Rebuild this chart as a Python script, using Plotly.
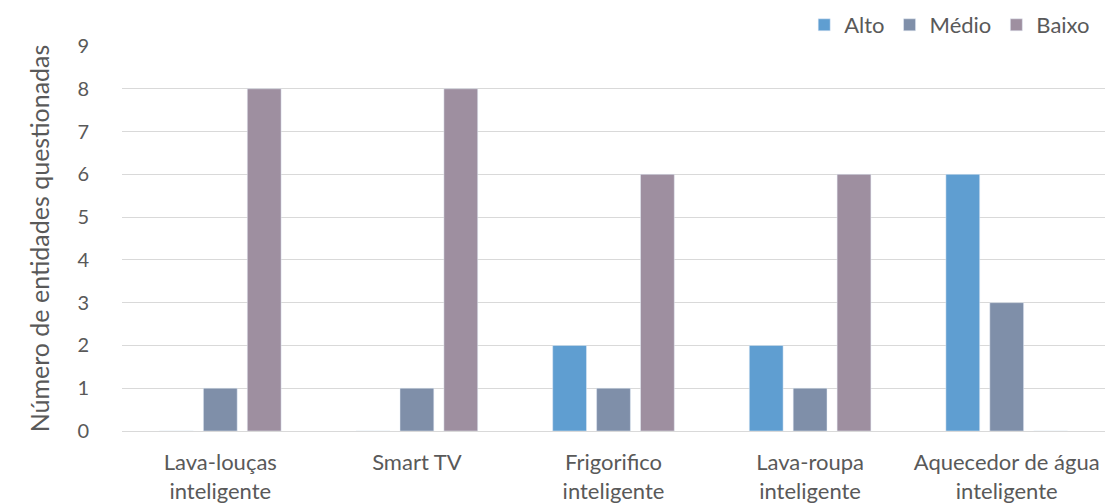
import plotly.graph_objects as go

categories = ["Lava-louças<br>inteligente", "Smart TV", "Frigorifico<br>inteligente",
              "Lava-roupa<br>inteligente", "Aquecedor de água<br>inteligente"]
alto = [0, 0, 2, 2, 6]
medio = [1, 1, 1, 1, 3]
baixo = [8, 8, 6, 6, 0]
y_ticks = list(range(0, 10))

FONT = "Lato"
TXT = "#595959"

fig = go.Figure()
fig.add_bar(name="Alto", x=categories, y=alto, marker_color="#5F9ED1")
fig.add_bar(name="Médio", x=categories, y=medio, marker_color="#7F8FA9")
fig.add_bar(name="Baixo", x=categories, y=baixo, marker_color="#9E8FA0")

fig.update_layout(
    width=1105, height=503,
    margin=dict(l=122, r=0, t=46, b=72, autoexpand=False),
    paper_bgcolor="white", plot_bgcolor="white",
    barmode="group", bargap=0.33, bargroupgap=0.23,
    font=dict(family=FONT, size=20, color=TXT),
    legend=dict(orientation="h", x=0.694, xanchor="left", y=1.0, yanchor="bottom",
                font=dict(size=22, color=TXT), itemwidth=30, traceorder="normal"),
    xaxis=dict(showgrid=False, showline=False, ticks="", ticklabelstandoff=16,
               tickfont=dict(size=22, color=TXT)),
    yaxis=dict(range=[0, 9], tickvals=y_ticks, showgrid=True, gridcolor="#D9D9D9", gridwidth=1,
               zeroline=True, zerolinecolor="#D9D9D9", zerolinewidth=1,
               ticks="", ticklen=0, ticklabelstandoff=32, tickfont=dict(size=20, color=TXT),
               title=dict(text="Número de entidades questionadas", font=dict(size=25, color=TXT),
                          standoff=20)),
)

fig.write_html("out.html", config={"displayModeBar": False},
               post_script="document.body.style.margin='0';document.body.style.overflow='hidden';")
